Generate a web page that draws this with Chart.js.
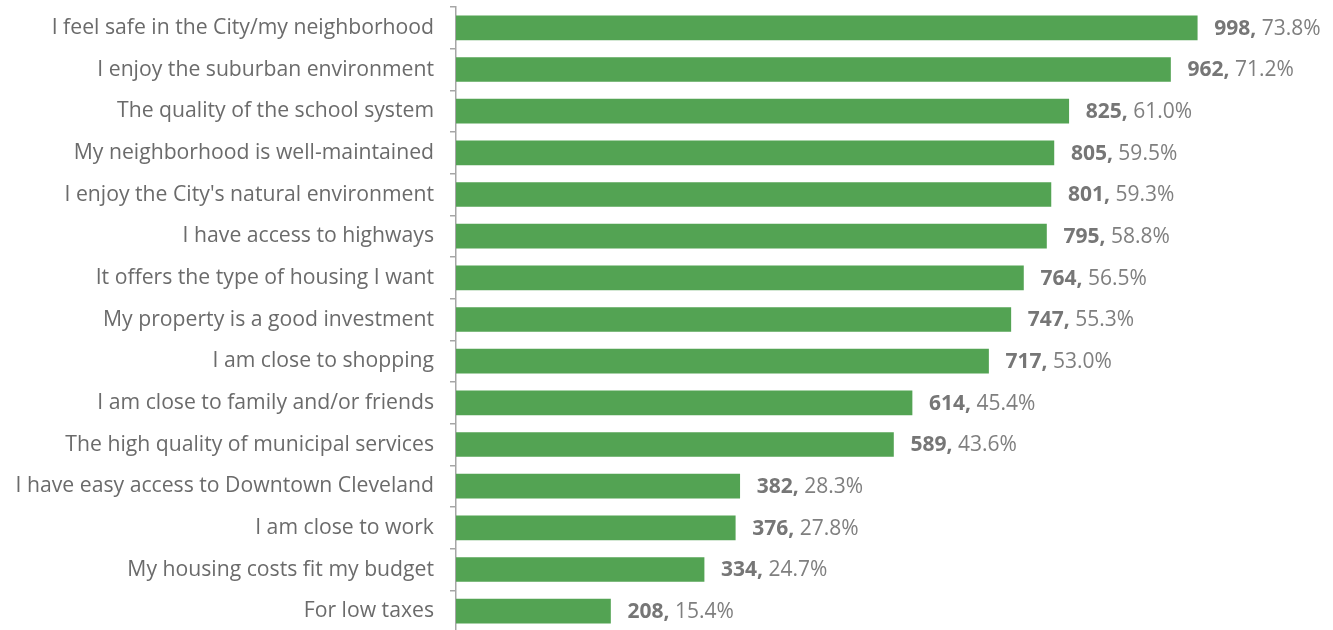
<!DOCTYPE html>
<html>
<head>
<meta charset="utf-8">
<script src="https://cdn.jsdelivr.net/npm/chart.js@4"></script>
<style>
  html, body { margin: 0; padding: 0; background: #fff; overflow: hidden; }
</style>
</head>
<body>
<canvas id="grafica" width="1333" height="640"></canvas>
<script>
// categorias y valores
const razones = [
  "I feel safe in the City/my neighborhood",
  "I enjoy the suburban environment",
  "The quality of the school system",
  "My neighborhood is well-maintained",
  "I enjoy the City's natural environment",
  "I have access to highways",
  "It offers the type of housing I want",
  "My property is a good investment",
  "I am close to shopping",
  "I am close to family and/or friends",
  "The high quality of municipal services",
  "I have easy access to Downtown Cleveland",
  "I am close to work",
  "My housing costs fit my budget",
  "For low taxes"
];
const conteos = [998, 962, 825, 805, 801, 795, 764, 747, 717, 614, 589, 382, 376, 334, 208];
const porcentajes = ["73.8%", "71.2%", "61.0%", "59.5%", "59.3%", "58.8%", "56.5%", "55.3%", "53.0%", "45.4%", "43.6%", "28.3%", "27.8%", "24.7%", "15.4%"];

const fuente = "'Open Sans', sans-serif";

// etiquetas al final de cada barra: conteo en negrita + porcentaje
const etiquetasBarras = {
  id: 'etiquetasBarras',
  afterDatasetsDraw(chart) {
    const ctx = chart.ctx;
    const meta = chart.getDatasetMeta(0);
    ctx.save();
    ctx.textBaseline = 'middle';
    ctx.textAlign = 'left';
    meta.data.forEach((bar, i) => {
      let x = bar.x + 17;
      const y = bar.y + 1;
      const negrita = conteos[i] + ",";
      ctx.font = "bold 21px " + fuente;
      ctx.fillStyle = '#767676';
      ctx.fillText(negrita, x, y);
      x += ctx.measureText(negrita).width;
      ctx.font = "21px " + fuente;
      ctx.fillStyle = '#7f7f7f';
      ctx.fillText(" " + porcentajes[i], x, y);
    });
    ctx.restore();
  }
};

const config = {
  type: 'bar',
  data: {
    labels: razones,
    datasets: [{
      data: conteos,
      backgroundColor: '#53a353',
      borderWidth: 0,
      barThickness: 24
    }]
  },
  options: {
    indexAxis: 'y',
    responsive: false,
    animation: false,
    layout: { padding: { top: 7, bottom: 8, right: 60, left: 0 } },
    plugins: {
      legend: { display: false },
      tooltip: { enabled: false }
    },
    scales: {
      x: {
        display: false,
        min: 0,
        max: 1100
      },
      y: {
        afterFit(scale) {
          scale.width = 456;
          scale.paddingTop = 0;
          scale.paddingBottom = 0;
        },
        grid: {
          display: true,
          drawOnChartArea: false,
          drawTicks: true,
          tickLength: 6,
          color: '#a6a6a6',
          lineWidth: 1.5
        },
        border: { display: true, color: '#a6a6a6', width: 1.5 },
        ticks: {
          color: '#6b6b6b',
          padding: 16,
          font: { family: fuente, size: 21.2 }
        }
      }
    }
  },
  plugins: [etiquetasBarras]
};

new Chart(document.getElementById('grafica'), config);
</script>
</body>
</html>
